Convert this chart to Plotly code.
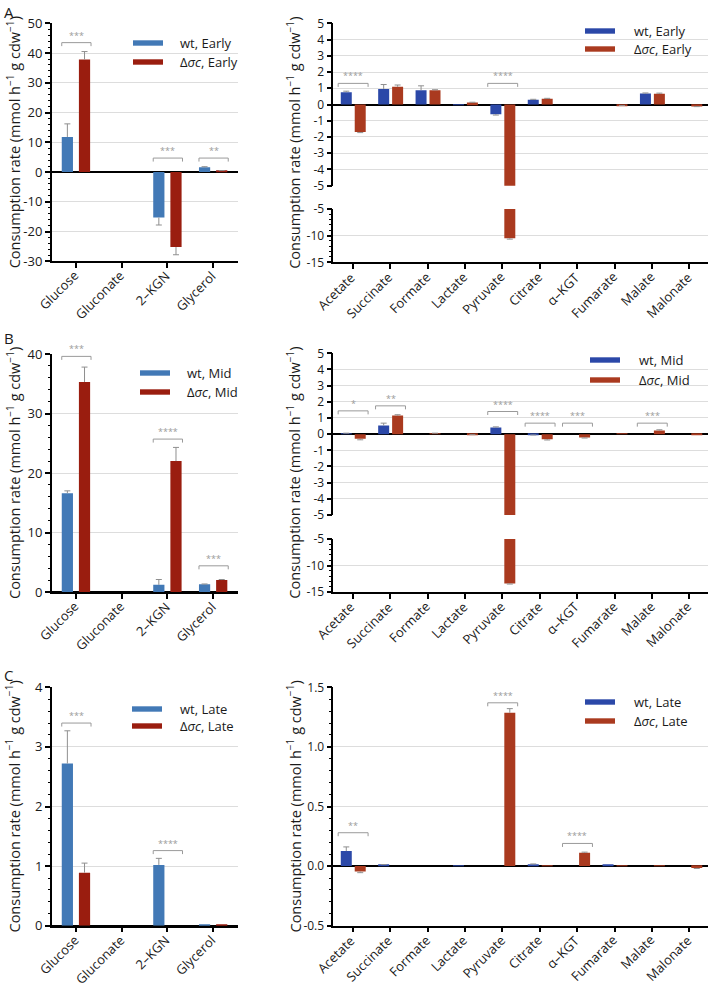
import plotly.graph_objects as go

W, H = 709, 988

# ---------------- data ----------------
LEFT_CATS = ["Glucose", "Gluconate", "2–KGN", "Glycerol"]
RIGHT_CATS = ["Acetate", "Succinate", "Formate", "Lactate", "Pyruvate",
              "Citrate", "α–KGT", "Fumarate", "Malate", "Malonate"]

# A: Early
A_left_wt = [11.8, 0.0, -15.3, 1.6]
A_left_wt_sd = [4.4, 0.0, 2.5, 0.2]
A_left_mut = [37.8, 0.0, -25.2, 0.4]
A_left_mut_sd = [2.7, 0.0, 2.6, 0.1]
A_right_wt = [0.75, 0.96, 0.88, 0.01, -0.60, 0.30, 0.0, 0.0, 0.68, 0.0]
A_right_wt_sd = [0.07, 0.27, 0.27, 0.0, 0.05, 0.02, 0.0, 0.0, 0.03, 0.0]
A_right_mut = [-1.70, 1.09, 0.88, 0.12, -10.5, 0.35, 0.0, -0.05, 0.66, -0.12]
A_right_mut_sd = [0.03, 0.11, 0.03, 0.02, 0.15, 0.03, 0.0, 0.01, 0.04, 0.01]

# B: Mid
B_left_wt = [16.6, 0.0, 1.2, 1.3]
B_left_wt_sd = [0.4, 0.0, 0.9, 0.05]
B_left_mut = [35.3, 0.0, 22.0, 2.0]
B_left_mut_sd = [2.5, 0.0, 2.3, 0.1]
B_right_wt = [0.05, 0.53, 0.0, 0.0, 0.41, -0.04, 0.0, 0.0, 0.0, 0.0]
B_right_wt_sd = [0.01, 0.15, 0.0, 0.0, 0.04, 0.01, 0.0, 0.0, 0.0, 0.0]
B_right_mut = [-0.29, 1.15, 0.05, -0.02, -13.4, -0.31, -0.21, 0.01, 0.22, -0.02]
B_right_mut_sd = [0.06, 0.05, 0.01, 0.01, 0.1, 0.05, 0.03, 0.0, 0.05, 0.0]

# C: Late
C_left_wt = [2.72, 0.0, 1.02, 0.02]
C_left_wt_sd = [0.55, 0.0, 0.11, 0.0]
C_left_mut = [0.89, 0.0, 0.0, 0.02]
C_left_mut_sd = [0.16, 0.0, 0.0, 0.0]
C_right_wt = [0.126, 0.01, 0.0, 0.005, 0.0, 0.015, 0.0, 0.01, 0.0, 0.0]
C_right_wt_sd = [0.035, 0.003, 0.0, 0.0, 0.0, 0.003, 0.0, 0.0, 0.0, 0.0]
C_right_mut = [-0.045, 0.0, 0.0, 0.0, 1.286, 0.005, 0.112, 0.005, 0.005, -0.015]
C_right_mut_sd = [0.01, 0.0, 0.0, 0.0, 0.035, 0.0, 0.005, 0.0, 0.0, 0.005]

# significance brackets: category index, bracket height, label
A_left_sig_idx = [0, 2, 3]
A_left_sig_y = [43.5, 4.7, 4.7]
A_left_sig_txt = ["***", "***", "**"]
A_right_sig_idx = [0, 4]
A_right_sig_y = [1.3, 1.3]
A_right_sig_txt = ["****", "****"]
B_left_sig_idx = [0, 2, 3]
B_left_sig_y = [39.6, 25.7, 4.4]
B_left_sig_txt = ["***", "****", "***"]
B_right_sig_idx = [0, 1, 4, 5, 6, 8]
B_right_sig_y = [1.44, 1.75, 1.4, 0.68, 0.68, 0.68]
B_right_sig_txt = ["*", "**", "****", "****", "***", "***"]
C_left_sig_idx = [0, 2]
C_left_sig_y = [3.4, 1.26]
C_left_sig_txt = ["***", "****"]
C_right_sig_idx = [0, 4, 6]
C_right_sig_y = [0.28, 1.37, 0.19]
C_right_sig_txt = ["**", "****", "****"]

# ---------------- style ----------------
FONT = "Open Sans"
TXT = "#1a1a1a"
L_BLUE, L_RED = "#4279b6", "#9a1d0f"
R_BLUE, R_RED = "#2b48a8", "#aa3a1f"
ERR_COLOR = "#8f8f8f"
SIG_COLOR = "#9a9a9a"
GRID = "#dddddd"
TITLE = "Consumption rate (mmol h<sup>−1</sup> g cdw<sup>−1</sup>)"
XLAB_SIZE = 13
XLAB_SHIFT = (9, -3)


def xdom(l, r):
    return [l / W, r / W]


def ydom(top, bot):
    return [1 - bot / H, 1 - top / H]


def fmt(v):
    return "%g" % v


def fmt1(v):
    return "%.1f" % v


LX_PX = (51.7, 238.3)
RX_PX = (333.3, 708.0)
LRANGE = [-0.53, 3.55]
RRANGE = [-0.52, 9.5]
L_CAT_PX = (LX_PX[1] - LX_PX[0]) / (LRANGE[1] - LRANGE[0])
R_CAT_PX = (RX_PX[1] - RX_PX[0]) / (RRANGE[1] - RRANGE[0])

L_GEOM = dict(w=0.245, off_wt=-0.31, off_mut=0.065, br=(-0.31, 0.33))
R_GEOM = dict(w=0.294, off_wt=-0.32, off_mut=0.053, br=(-0.39, 0.41))

fig = go.Figure()
annotations = []
shapes = []
layout_axes = {}
minor_counter = [8]


def ax_names(i):
    s = "" if i == 1 else str(i)
    return "x" + s, "y" + s, "xaxis" + s, "yaxis" + s


def draw_bars(i, vals, sds, color, off, width, cat_px, name):
    xr, yr, _, _ = ax_names(i)
    xs = list(range(len(vals)))
    fig.add_trace(go.Bar(x=xs, y=vals, offset=off, width=width, name=name,
                         marker=dict(color=color, line=dict(width=0)),
                         xaxis=xr, yaxis=yr, showlegend=False, hoverinfo="skip"))
    ex, ey = [], []
    cw = 3.0 / cat_px
    for k, (v, s) in enumerate(zip(vals, sds)):
        if s <= 0:
            continue
        c = k + off + width / 2
        tip = v + s if v >= 0 else v - s
        ex += [c, c, None, c - cw, c + cw, None]
        ey += [v, tip, None, tip, tip, None]
    if ex:
        fig.add_trace(go.Scatter(x=ex, y=ey, mode="lines",
                                 line=dict(color=ERR_COLOR, width=1),
                                 xaxis=xr, yaxis=yr, showlegend=False, hoverinfo="skip"))


def draw_sig(i, idx, ys, txts, br, unit_px):
    xr, yr, _, _ = ax_names(i)
    drop = 3.5 / unit_px
    bx, by = [], []
    for k, y, t in zip(idx, ys, txts):
        x0, x1 = k + br[0], k + br[1]
        bx += [x0, x0, x1, x1, None]
        by += [y - drop, y, y, y - drop, None]
        annotations.append(dict(x=(x0 + x1) / 2, y=y, xref=xr, yref=yr, text=t,
                                showarrow=False, yanchor="bottom", yshift=-1,
                                font=dict(family=FONT, size=9, color=SIG_COLOR)))
    fig.add_trace(go.Scatter(x=bx, y=by, mode="lines", line=dict(color=SIG_COLOR, width=1),
                             xaxis=xr, yaxis=yr, showlegend=False, hoverinfo="skip"))


def draw_legend(pos, blue, red, phase):
    lx, y1, y2, tx = pos
    for name, col, yy in [("wt, " + phase, blue, y1), ("Δ<i>σc</i>, " + phase, red, y2)]:
        shapes.append(dict(type="rect", xref="paper", yref="paper",
                           x0=lx / W, x1=(lx + 30) / W,
                           y0=1 - (yy + 2.7) / H, y1=1 - (yy - 2.7) / H,
                           fillcolor=col, line=dict(width=0)))
        annotations.append(dict(x=tx / W, y=1 - yy / H, xref="paper", yref="paper",
                                text=name, showarrow=False, xanchor="left", yanchor="middle",
                                font=dict(family=FONT, size=13, color=TXT)))


def xaxis_spec(cats, rng, dom, anchor, bottom_px=None):
    d = dict(domain=dom, range=rng, anchor=anchor, showgrid=False, zeroline=False,
             tickmode="array", tickvals=list(range(len(cats))), showticklabels=False,
             fixedrange=True, automargin=False)
    if bottom_px is not None:
        d.update(showline=True, linecolor="black", linewidth=1.5, ticks="outside",
                 ticklen=5, tickwidth=1.5, tickcolor="black")
    else:
        d.update(showline=False, ticks="")
    return d


def x_labels(i, cats, bottom_px):
    xr = ax_names(i)[0]
    for k, c in enumerate(cats):
        annotations.append(dict(x=k, y=1 - bottom_px / H, xref=xr, yref="paper", text=c,
                                textangle=-45, showarrow=False, xanchor="right", yanchor="top",
                                xshift=XLAB_SHIFT[0], yshift=XLAB_SHIFT[1],
                                font=dict(family=FONT, size=XLAB_SIZE, color=TXT)))


def yaxis_spec(dom, rng, anchor, major, fsize, labeler=fmt):
    return dict(domain=dom, range=rng, anchor=anchor, showgrid=True, gridcolor=GRID, gridwidth=1,
                zeroline=True, zerolinecolor="black", zerolinewidth=1.5,
                showline=True, linecolor="black", linewidth=1.5, ticks="outside", ticklen=5,
                tickwidth=1.5, tickcolor="black", tickmode="array", tickvals=major,
                ticktext=[labeler(v) for v in major], automargin=False,
                tickfont=dict(family=FONT, size=fsize, color=TXT), fixedrange=True)


def minor_axis(i, rng, mdt):
    xr, yr, _, _ = ax_names(i)
    minor_counter[0] += 1
    m = minor_counter[0]
    _, myr, _, myk = ax_names(m)
    layout_axes[myk] = dict(overlaying=yr, anchor=xr, side="left", range=rng,
                            tickmode="linear", tick0=rng[0], dtick=mdt, ticks="outside",
                            ticklen=3, tickwidth=1, tickcolor="black", showticklabels=False,
                            showgrid=False, zeroline=False, showline=False, fixedrange=True,
                            automargin=False)
    fig.add_trace(go.Scatter(x=[None], y=[None], xaxis=xr, yaxis=myr, showlegend=False,
                             hoverinfo="skip"))


def steps(a, b, st):
    n = int(round((b - a) / st))
    return [round(a + k * st, 6) for k in range(n + 1)]


ROWS = [
    dict(phase="Early", label="A", label_top=0,
         left=dict(top=23.3, bot=261.3, rng=[-30, 50], major=steps(-30, 50, 10), mst=2),
         up=(23.3, 185.7), lo=(209.0, 262.3),
         lwt=A_left_wt, lwt_sd=A_left_wt_sd, lmut=A_left_mut, lmut_sd=A_left_mut_sd,
         rwt=A_right_wt, rwt_sd=A_right_wt_sd, rmut=A_right_mut, rmut_sd=A_right_mut_sd,
         lsig=(A_left_sig_idx, A_left_sig_y, A_left_sig_txt),
         rsig=(A_right_sig_idx, A_right_sig_y, A_right_sig_txt),
         leg_l=(133, 43, 62, 178), leg_r=(585, 31, 49, 632)),
    dict(phase="Mid", label="B", label_top=326,
         left=dict(top=354.0, bot=592.0, rng=[0, 40], major=steps(0, 40, 10), mst=2),
         up=(353.3, 515.0), lo=(539.0, 592.0),
         lwt=B_left_wt, lwt_sd=B_left_wt_sd, lmut=B_left_mut, lmut_sd=B_left_mut_sd,
         rwt=B_right_wt, rwt_sd=B_right_wt_sd, rmut=B_right_mut, rmut_sd=B_right_mut_sd,
         lsig=(B_left_sig_idx, B_left_sig_y, B_left_sig_txt),
         rsig=(B_right_sig_idx, B_right_sig_y, B_right_sig_txt),
         leg_l=(140, 373, 392, 185), leg_r=(590, 360, 380, 637)),
    dict(phase="Late", label="C", label_top=663,
         left=dict(top=687.3, bot=925.7, rng=[0, 4], major=steps(0, 4, 1), mst=0.2),
         up=None, right=dict(top=687.3, bot=925.7, rng=[-0.5, 1.5],
                             major=steps(-0.5, 1.5, 0.5), mst=0.1),
         lwt=C_left_wt, lwt_sd=C_left_wt_sd, lmut=C_left_mut, lmut_sd=C_left_mut_sd,
         rwt=C_right_wt, rwt_sd=C_right_wt_sd, rmut=C_right_mut, rmut_sd=C_right_mut_sd,
         lsig=(C_left_sig_idx, C_left_sig_y, C_left_sig_txt),
         rsig=(C_right_sig_idx, C_right_sig_y, C_right_sig_txt),
         leg_l=(132, 709, 726, 178), leg_r=(585, 702, 721, 632)),
]

ax_i = 0
for row in ROWS:
    ph = row["phase"]
    # ---------- left panel ----------
    ax_i += 1
    i = ax_i
    xr, yr, xk, yk = ax_names(i)
    L = row["left"]
    unit = (L["bot"] - L["top"]) / (L["rng"][1] - L["rng"][0])
    layout_axes[xk] = xaxis_spec(LEFT_CATS, LRANGE, xdom(*LX_PX), yr, L["bot"])
    layout_axes[yk] = yaxis_spec(ydom(L["top"], L["bot"]), L["rng"], xr, L["major"], 13)
    x_labels(i, LEFT_CATS, L["bot"])
    draw_bars(i, row["lwt"], row["lwt_sd"], L_BLUE, L_GEOM["off_wt"], L_GEOM["w"], L_CAT_PX, "wt, " + ph)
    draw_bars(i, row["lmut"], row["lmut_sd"], L_RED, L_GEOM["off_mut"], L_GEOM["w"], L_CAT_PX, "Δσc, " + ph)
    draw_sig(i, *row["lsig"], L_GEOM["br"], unit)
    draw_legend(row["leg_l"], L_BLUE, L_RED, ph)
    annotations.append(dict(x=13 / W, y=1 - (L["top"] + L["bot"]) / 2 / H, xref="paper", yref="paper",
                            text=TITLE, textangle=-90, showarrow=False, xanchor="center",
                            yanchor="middle", font=dict(family=FONT, size=14.5, color=TXT)))
    annotations.append(dict(x=2 / W, y=1 - row["label_top"] / H, xref="paper", yref="paper",
                            text=row["label"], showarrow=False, xanchor="left", yanchor="top",
                            font=dict(family=FONT, size=15, color=TXT)))
    left_i = i

    # ---------- right panel ----------
    if row["up"] is not None:
        up_top, up_bot = row["up"]
        lo_top, lo_bot = row["lo"]
        ax_i += 1
        iu = ax_i
        xr_u, yr_u, xk_u, yk_u = ax_names(iu)
        unit_u = (up_bot - up_top) / 10.0
        layout_axes[xk_u] = xaxis_spec(RIGHT_CATS, RRANGE, xdom(*RX_PX), yr_u, None)
        layout_axes[yk_u] = yaxis_spec(ydom(up_top, up_bot), [-5, 5], xr_u, steps(-5, 5, 1), 12)
        ax_i += 1
        il = ax_i
        xr_l, yr_l, xk_l, yk_l = ax_names(il)
        layout_axes[xk_l] = xaxis_spec(RIGHT_CATS, RRANGE, xdom(*RX_PX), yr_l, lo_bot)
        layout_axes[yk_l] = yaxis_spec(ydom(lo_top, lo_bot), [-15, -5], xr_l, steps(-15, -5, 5), 12)
        layout_axes[yk_l]["zeroline"] = False
        x_labels(il, RIGHT_CATS, lo_bot)
        for ii in (iu, il):
            draw_bars(ii, row["rwt"], row["rwt_sd"], R_BLUE, R_GEOM["off_wt"], R_GEOM["w"], R_CAT_PX, "wt, " + ph)
            draw_bars(ii, row["rmut"], row["rmut_sd"], R_RED, R_GEOM["off_mut"], R_GEOM["w"], R_CAT_PX, "Δσc, " + ph)
        draw_sig(iu, *row["rsig"], R_GEOM["br"], unit_u)
        minor_axis(left_i, L["rng"], L["mst"])
        minor_axis(il, [-15, -5], 1)
        top_px, bot_px = up_top, lo_bot
    else:
        R = row["right"]
        ax_i += 1
        ir = ax_i
        xr_r, yr_r, xk_r, yk_r = ax_names(ir)
        unit_r = (R["bot"] - R["top"]) / (R["rng"][1] - R["rng"][0])
        layout_axes[xk_r] = xaxis_spec(RIGHT_CATS, RRANGE, xdom(*RX_PX), yr_r, R["bot"])
        layout_axes[yk_r] = yaxis_spec(ydom(R["top"], R["bot"]), R["rng"], xr_r, R["major"],
                                       12, labeler=fmt1)
        x_labels(ir, RIGHT_CATS, R["bot"])
        draw_bars(ir, row["rwt"], row["rwt_sd"], R_BLUE, R_GEOM["off_wt"], R_GEOM["w"], R_CAT_PX, "wt, " + ph)
        draw_bars(ir, row["rmut"], row["rmut_sd"], R_RED, R_GEOM["off_mut"], R_GEOM["w"], R_CAT_PX, "Δσc, " + ph)
        draw_sig(ir, *row["rsig"], R_GEOM["br"], unit_r)
        minor_axis(left_i, L["rng"], L["mst"])
        minor_axis(ir, R["rng"], R["mst"])
        top_px, bot_px = R["top"], R["bot"]
    draw_legend(row["leg_r"], R_BLUE, R_RED, ph)
    annotations.append(dict(x=294 / W, y=1 - (top_px + bot_px) / 2 / H, xref="paper", yref="paper",
                            text=TITLE, textangle=-90, showarrow=False, xanchor="center",
                            yanchor="middle", font=dict(family=FONT, size=14.5, color=TXT)))

fig.update_layout(
    width=W, height=H,
    margin=dict(l=0, r=0, t=0, b=0, pad=0, autoexpand=False),
    paper_bgcolor="white", plot_bgcolor="white",
    barmode="overlay",
    annotations=annotations,
    shapes=shapes,
    showlegend=False,
    **layout_axes,
)

fig.write_html("out.html", config={"displayModeBar": False},
               post_script="document.body.style.margin='0px';")
